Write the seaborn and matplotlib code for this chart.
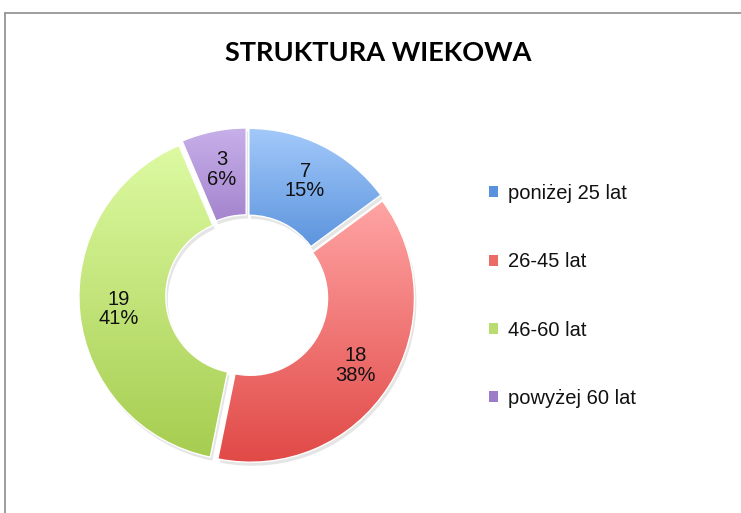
import numpy as np
import matplotlib
matplotlib.use('Agg')
import matplotlib.pyplot as plt
import seaborn as sns
from matplotlib.colors import LinearSegmentedColormap
from matplotlib.patches import Patch
from matplotlib.lines import Line2D

# data
categories = ['poniżej 25 lat', '26-45 lat', '46-60 lat', 'powyżej 60 lat']
counts = [7, 18, 19, 3]
percents = [15, 38, 41, 6]   # as printed on the chart
# gradient colours per slice (top/light -> bottom/dark)
light = ['#a3c9fa', '#ffa4a4', '#ddfaa2', '#c8b0ea']
dark = ['#4180d2', '#e04845', '#a6cd50', '#8863b9']
legend_cols = ['#5a91dc', '#ec6a68', '#b9dc72', '#9c7cc8']

sns.set_theme(style='white')
plt.rcParams['font.family'] = ['Liberation Sans', 'DejaVu Sans']

fig = plt.figure(figsize=(7.41, 5.13), dpi=100)
fig.patch.set_facecolor('white')

# chart frame (only top and left edges visible)
fig.add_artist(Line2D([5 / 741, 1], [1 - 13 / 513, 1 - 13 / 513], color='#8c8c8c', lw=1.2))
fig.add_artist(Line2D([5 / 741, 5 / 741], [0, 1 - 13 / 513], color='#8c8c8c', lw=1.2))

fig.text(378 / 741, 1 - 53 / 513, 'STRUKTURA WIEKOWA', ha='center', va='center',
         fontsize=19.5, fontweight='bold', color='black', family=['Lato', 'DejaVu Sans'])

size = 345
cx, cy = 247, 296
ax = fig.add_axes([(cx - size / 2) / 741, 1 - (cy + size / 2) / 513, size / 741, size / 513])
ax.set_aspect('equal')
ax.axis('off')

explode = [0.025] * len(counts)
width = 0.53

# soft shadow, under the slices
shadow, _ = ax.pie(counts, startangle=90, counterclock=False, explode=explode,
                   radius=1, center=(0.012, -0.022),
                   wedgeprops=dict(width=width, facecolor='#000000', alpha=0.10, lw=0))
for s in shadow:
    s.set_zorder(0.5)

wedges, texts = ax.pie(
    counts, startangle=90, counterclock=False, explode=explode, radius=1,
    labels=[f'{c}\n{p}%' for c, p in zip(counts, percents)], labeldistance=0.76,
    wedgeprops=dict(width=width, edgecolor='white', linewidth=1.0),
    textprops=dict(fontsize=14.5, color='#111111', linespacing=1.05,
                   ha='center', va='center'))

grad = np.linspace(0, 1, 256).reshape(-1, 1)
for w, lc, dc in zip(wedges, light, dark):
    verts = w.get_path().vertices
    x0, y0 = verts.min(axis=0)
    x1, y1 = verts.max(axis=0)
    cmap = LinearSegmentedColormap.from_list('g', [dc, lc])
    w.set_facecolor('none')
    w.set_zorder(2)
    im = ax.imshow(grad, extent=[x0, x1, y0, y1], origin='lower', cmap=cmap,
                   aspect='auto', zorder=1.5, interpolation='bilinear')
    im.set_clip_path(w)

for t in texts:
    t.set_ha('center')
    t.set_zorder(5)

lim = size / 2 / 164
ax.set_xlim(-lim, lim)
ax.set_ylim(-lim, lim)

handles = [Patch(facecolor=c, edgecolor='none') for c in legend_cols]
leg = fig.legend(handles, categories, loc='upper left',
                 bbox_to_anchor=(481 / 741, 1 - 176 / 513), frameon=False,
                 fontsize=14.5, handlelength=0.45, handleheight=0.45,
                 handletextpad=0.5, labelspacing=2.45, borderaxespad=0)
for t in leg.get_texts():
    t.set_color('#111111')

fig.savefig('out.png', dpi=100)
